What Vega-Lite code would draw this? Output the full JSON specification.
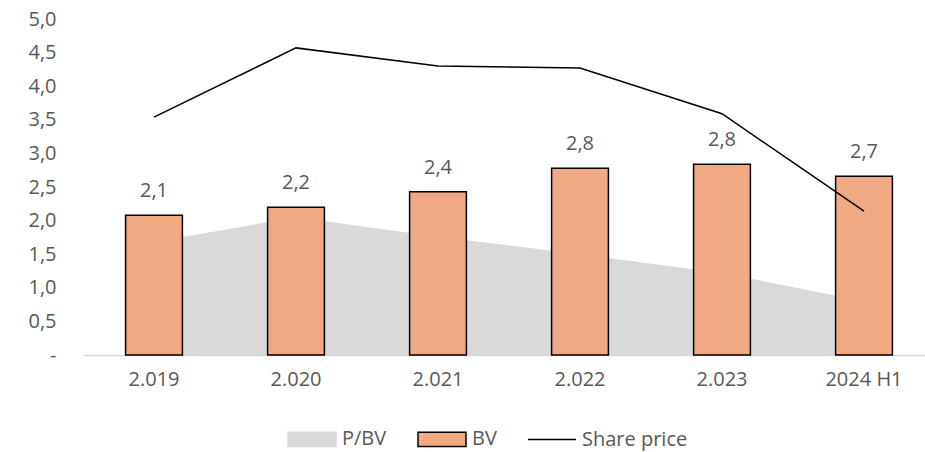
{
  "$schema": "https://vega.github.io/schema/vega-lite/v6.json",
  "width": 842,
  "height": 336,
  "autosize": {"type": "none"},
  "padding": {"left": 83, "top": 19, "right": 0, "bottom": 97},
  "background": "white",
  "config": {
    "locale": {"number": {"decimal": ",", "thousands": ".", "grouping": [3], "currency": ["", "€"]}},
    "view": {"stroke": null},
    "font": "Open Sans"
  },
  "data": {
    "values": [
      {"year": "2.019", "series": "P/BV", "value": 1.68},
      {"year": "2.020", "series": "P/BV", "value": 2.05},
      {"year": "2.021", "series": "P/BV", "value": 1.76},
      {"year": "2.022", "series": "P/BV", "value": 1.5},
      {"year": "2.023", "series": "P/BV", "value": 1.22},
      {"year": "2024 H1", "series": "P/BV", "value": 0.8},
      {"year": "2.019", "series": "BV", "value": 2.08},
      {"year": "2.020", "series": "BV", "value": 2.2},
      {"year": "2.021", "series": "BV", "value": 2.43},
      {"year": "2.022", "series": "BV", "value": 2.78},
      {"year": "2.023", "series": "BV", "value": 2.84},
      {"year": "2024 H1", "series": "BV", "value": 2.66},
      {"year": "2.019", "series": "Share price", "value": 3.54},
      {"year": "2.020", "series": "Share price", "value": 4.57},
      {"year": "2.021", "series": "Share price", "value": 4.3},
      {"year": "2.022", "series": "Share price", "value": 4.27},
      {"year": "2.023", "series": "Share price", "value": 3.59},
      {"year": "2024 H1", "series": "Share price", "value": 2.14}
    ]
  },
  "encoding": {
    "x": {
      "field": "year",
      "type": "nominal",
      "sort": null,
      "scale": {"range": [0, 852], "paddingInner": 0.6, "paddingOuter": 0.3},
      "axis": {
        "title": null,
        "labelAngle": 0,
        "ticks": false,
        "domainColor": "#d9d9d9",
        "domainWidth": 1.5,
        "labelFontSize": 20,
        "labelColor": "#595959",
        "labelPadding": 14
      }
    },
    "y": {
      "field": "value",
      "type": "quantitative",
      "scale": {"domain": [0, 5]},
      "axis": {
        "title": null,
        "values": [0, 0.5, 1, 1.5, 2, 2.5, 3, 3.5, 4, 4.5, 5],
        "format": ".1f",
        "labelExpr": "datum.value == 0 ? '-' : datum.label",
        "ticks": false,
        "domain": false,
        "grid": false,
        "labelPadding": 27,
        "labelFontSize": 20,
        "labelColor": "#595959"
      }
    }
  },
  "layer": [
    {
      "encoding": {
        "fill": {
          "field": "series",
          "type": "nominal",
          "scale": {"domain": ["P/BV", "BV", "Share price"], "range": ["#d9d9d9", "#f1a983", "transparent"]},
          "legend": {
            "title": null,
            "orient": "none",
            "direction": "horizontal",
            "legendX": 204,
            "legendY": 395,
            "labelFontSize": 20,
            "labelColor": "#595959",
            "labelOffset": 5,
            "columnPadding": 28,
            "symbolSize": 2304,
            "symbolStrokeWidth": 1.5,
            "symbolOpacity": 1,
            "encode": {
              "symbols": {
                "update": {
                  "shape": {"signal": "datum.value === 'Share price' ? 'M-1,0H1' : 'M-1,-0.3H1V0.3H-1Z'"},
                  "strokeWidth": {"value": 1.5},
                  "size": {"value": 2304},
                  "opacity": {"value": 1}
                }
              }
            }
          }
        },
        "stroke": {
          "field": "series",
          "type": "nominal",
          "scale": {"domain": ["P/BV", "BV", "Share price"], "range": ["#d9d9d9", "#000000", "#000000"]},
          "legend": {
            "title": null,
            "orient": "none",
            "direction": "horizontal",
            "legendX": 204,
            "legendY": 395,
            "labelFontSize": 20,
            "labelColor": "#595959",
            "labelOffset": 5,
            "columnPadding": 28,
            "symbolSize": 2304,
            "symbolStrokeWidth": 1.5,
            "symbolOpacity": 1,
            "encode": {
              "symbols": {
                "update": {
                  "shape": {"signal": "datum.value === 'Share price' ? 'M-1,0H1' : 'M-1,-0.3H1V0.3H-1Z'"},
                  "strokeWidth": {"value": 1.5},
                  "size": {"value": 2304},
                  "opacity": {"value": 1}
                }
              }
            }
          }
        }
      },
      "layer": [
        {
          "transform": [{"filter": "datum.series == 'P/BV'"}],
          "mark": {"type": "area", "opacity": 1, "strokeWidth": 0}
        },
        {
          "transform": [{"filter": "datum.series == 'BV'"}],
          "mark": {"type": "bar", "strokeWidth": 1.5}
        },
        {
          "transform": [{"filter": "datum.series == 'Share price'"}],
          "mark": {"type": "line", "strokeWidth": 1.5}
        }
      ]
    },
    {
      "transform": [{"filter": "datum.series == 'BV'"}],
      "mark": {"type": "text", "dy": -24, "baseline": "middle", "fontSize": 20, "color": "#595959"},
      "encoding": {
        "text": {"field": "value", "type": "quantitative", "format": ".1f"}
      }
    }
  ]
}
